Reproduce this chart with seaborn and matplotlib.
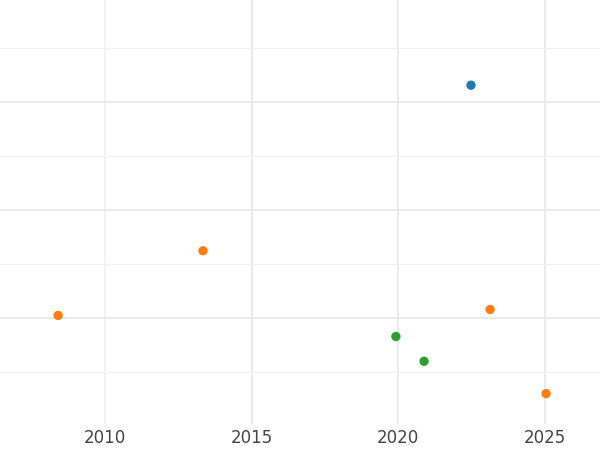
import matplotlib
matplotlib.use("Agg")
import matplotlib.pyplot as plt
import seaborn as sns
import pandas as pd

# points
years = [2022.48, 2008.4, 2013.34, 2023.13, 2025.04, 2019.92, 2020.88]
values = [5.31, 1.04, 2.24, 1.15, -0.41, 0.65, 0.19]
groups = ["a", "b", "b", "b", "b", "c", "c"]
palette = {"a": "#1f77b4", "b": "#ff7f0e", "c": "#2ca02c"}

df = pd.DataFrame({"year": years, "value": values, "group": groups})

sns.set_style("white")
fig = plt.figure(figsize=(6, 4.5), dpi=100)
ax = fig.add_axes([0, 0.057, 1, 0.943])
sns.scatterplot(data=df, x="year", y="value", hue="group", palette=palette,
                s=45, edgecolor="none", legend=False, ax=ax)

ax.set_xlim(2006.42, 2026.88)
ax.set_ylim(-0.98, 6.89)
ax.set_xticks([2010, 2015, 2020, 2025])
ax.set_yticks([1, 3, 5])
ax.set_yticks([0, 2, 4, 6], minor=True)
ax.grid(True, which="major", color="#e6e6e6", linewidth=1.2)
ax.grid(True, which="minor", axis="y", color="#f0f0f0", linewidth=0.8)
ax.xaxis.get_gridlines()[0].set_color("#f0f0f0")
ax.set_yticklabels([])
ax.tick_params(axis="both", length=0, labelsize=12, labelcolor="#444444")
ax.tick_params(axis="y", which="minor", length=0)
ax.set_xlabel("")
ax.set_ylabel("")
for s in ax.spines.values():
    s.set_visible(False)

fig.savefig("out.png", dpi=100)
